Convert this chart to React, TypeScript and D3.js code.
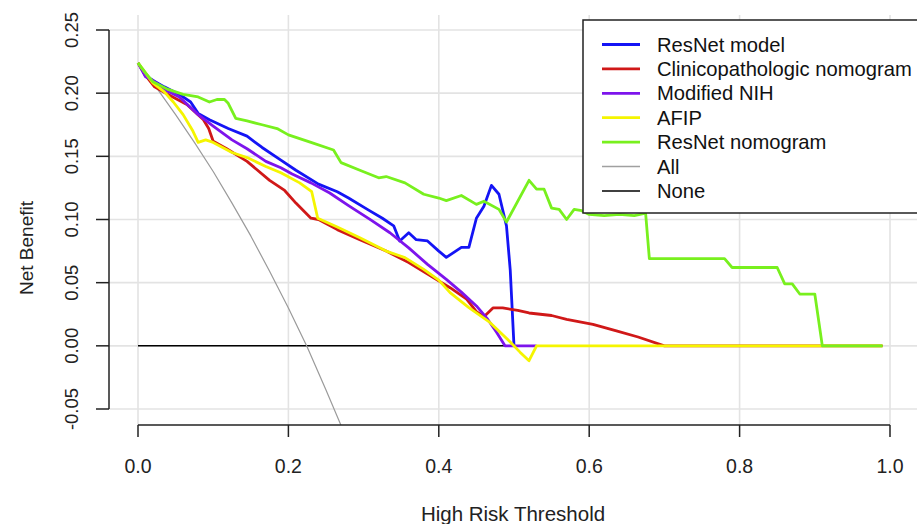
import React from "react";
import * as d3 from "d3";

const xTicks = [0, 0.2, 0.4, 0.6, 0.8, 1.0];
const yTicks = [-0.05, 0, 0.05, 0.1, 0.15, 0.2, 0.25];

const resnetT = [0, 0.01, 0.02, 0.035, 0.055, 0.07, 0.08, 0.095, 0.12, 0.145, 0.165, 0.19, 0.21, 0.24, 0.265, 0.28, 0.305, 0.325, 0.34, 0.348, 0.36, 0.37, 0.385, 0.40, 0.41, 0.43, 0.44, 0.45, 0.46, 0.47, 0.48, 0.49, 0.495, 0.50];
const resnetV = [0.224, 0.214, 0.210, 0.205, 0.199, 0.193, 0.184, 0.179, 0.172, 0.166, 0.157, 0.147, 0.139, 0.128, 0.122, 0.117, 0.108, 0.101, 0.095, 0.083, 0.0895, 0.084, 0.083, 0.075, 0.070, 0.078, 0.078, 0.101, 0.1105, 0.127, 0.120, 0.095, 0.060, 0];

const clinT = [0, 0.01, 0.022, 0.04, 0.065, 0.087, 0.094, 0.10, 0.118, 0.145, 0.175, 0.195, 0.21, 0.23, 0.24, 0.265, 0.295, 0.33, 0.36, 0.39, 0.415, 0.437, 0.45, 0.46, 0.472, 0.485, 0.505, 0.52, 0.55, 0.57, 0.605, 0.635, 0.665, 0.70, 0.99];
const clinV = [0.224, 0.214, 0.205, 0.199, 0.191, 0.179, 0.172, 0.162, 0.156, 0.146, 0.131, 0.123, 0.113, 0.101, 0.100, 0.092, 0.084, 0.075, 0.066, 0.055, 0.046, 0.037, 0.027, 0.023, 0.030, 0.030, 0.028, 0.026, 0.024, 0.021, 0.017, 0.012, 0.007, 0.0, 0];

const nihT = [0, 0.01, 0.02, 0.035, 0.055, 0.08, 0.10, 0.125, 0.145, 0.17, 0.19, 0.205, 0.23, 0.255, 0.28, 0.31, 0.335, 0.36, 0.385, 0.41, 0.43, 0.45, 0.465, 0.477, 0.488, 0.53];
const nihV = [0.224, 0.213, 0.210, 0.203, 0.197, 0.183, 0.174, 0.163, 0.156, 0.146, 0.141, 0.136, 0.129, 0.121, 0.111, 0.0995, 0.0895, 0.0775, 0.0645, 0.0526, 0.0425, 0.0316, 0.0211, 0.0105, 0, 0];

const afipT = [0, 0.01, 0.02, 0.035, 0.047, 0.06, 0.073, 0.08, 0.09, 0.10, 0.125, 0.145, 0.17, 0.19, 0.215, 0.231, 0.239, 0.265, 0.295, 0.33, 0.355, 0.38, 0.40, 0.415, 0.44, 0.468, 0.495, 0.508, 0.52, 0.53, 0.99];
const afipV = [0.224, 0.216, 0.208, 0.201, 0.193, 0.183, 0.170, 0.161, 0.163, 0.161, 0.153, 0.149, 0.142, 0.137, 0.129, 0.122, 0.101, 0.094, 0.0855, 0.075, 0.0698, 0.0605, 0.052, 0.0421, 0.0303, 0.0185, 0.003, -0.005, -0.0118, 0, 0];

const nomoT = [0, 0.01, 0.02, 0.04, 0.06, 0.08, 0.095, 0.105, 0.115, 0.12, 0.13, 0.145, 0.165, 0.185, 0.2, 0.23, 0.26, 0.27, 0.295, 0.32, 0.33, 0.355, 0.38, 0.40, 0.41, 0.43, 0.45, 0.46, 0.48, 0.49, 0.52, 0.53, 0.54, 0.55, 0.56, 0.57, 0.58, 0.59, 0.60, 0.62, 0.64, 0.66, 0.675, 0.68, 0.78, 0.79, 0.85, 0.86, 0.87, 0.88, 0.90, 0.91, 0.99];
const nomoV = [0.224, 0.216, 0.209, 0.203, 0.199, 0.197, 0.193, 0.195, 0.195, 0.192, 0.180, 0.178, 0.175, 0.172, 0.167, 0.161, 0.155, 0.145, 0.139, 0.133, 0.134, 0.129, 0.120, 0.117, 0.115, 0.119, 0.112, 0.1145, 0.108, 0.098, 0.131, 0.124, 0.124, 0.109, 0.108, 0.100, 0.108, 0.107, 0.104, 0.103, 0.104, 0.103, 0.105, 0.069, 0.069, 0.062, 0.062, 0.049, 0.049, 0.041, 0.041, 0, 0];

const allT = [0, 0.025, 0.05, 0.075, 0.1, 0.125, 0.15, 0.175, 0.2, 0.225, 0.25, 0.275, 0.3];
const allV = [0.224, 0.204, 0.183, 0.161, 0.138, 0.113, 0.087, 0.059, 0.030, -0.001, -0.035, -0.070, -0.109];

const noneT = [0, 0.99];
const noneV = [0, 0];

const legendLabels = ["ResNet model", "Clinicopathologic nomogram", "Modified NIH", "AFIP", "ResNet nomogram", "All", "None"];
const legendColors = ["#1414f5", "#d01818", "#7d14ec", "#f5f500", "#78f01e", "#a0a0a0", "#000000"];

export default function App() {
  const x = d3.scaleLinear().domain([0, 1]).range([138, 890]);
  const y = d3.scaleLinear().domain([-0.05, 0.25]).range([409, 30]);
  const line = d3.line<[number, number]>().x((d) => x(d[0])).y((d) => y(d[1]));
  const zip = (t: number[], v: number[]) => t.map((tt, i) => [tt, v[i]] as [number, number]);

  const series = [
    { t: noneT, v: noneV, c: "#000000", w: 1.5 },
    { t: allT, v: allV, c: "#9a9a9a", w: 1.2 },
    { t: resnetT, v: resnetV, c: legendColors[0], w: 2.8 },
    { t: clinT, v: clinV, c: legendColors[1], w: 2.8 },
    { t: nihT, v: nihV, c: legendColors[2], w: 2.8 },
    { t: afipT, v: afipV, c: legendColors[3], w: 2.8 },
    { t: nomoT, v: nomoV, c: legendColors[4], w: 2.8 },
  ];

  const font = "'Liberation Sans', Arial, sans-serif";
  const plotL = 108, plotR = 920, plotT = 15, plotB = 425;

  return (
    <svg width={917} height={524} style={{ position: "absolute", left: 0, top: 0, background: "#fff" }} fontFamily={font}>
      <defs>
        <clipPath id="plotclip">
          <rect x={plotL} y={plotT} width={plotR - plotL} height={plotB - plotT} />
        </clipPath>
      </defs>
      {xTicks.map((t) => (
        <line key={"gx" + t} x1={x(t)} x2={x(t)} y1={plotT} y2={plotB} stroke="#e3e3e3" strokeWidth={1.6} />
      ))}
      {yTicks.map((t) => (
        <line key={"gy" + t} x1={plotL} x2={plotR} y1={y(t)} y2={y(t)} stroke="#e3e3e3" strokeWidth={1.6} />
      ))}
      <g clipPath="url(#plotclip)">
        {series.map((s, i) => (
          <path key={i} d={line(zip(s.t, s.v)) || ""} fill="none" stroke={s.c} strokeWidth={s.w} strokeLinejoin="round" />
        ))}
      </g>
      <line x1={109} x2={109} y1={y(0.25)} y2={y(-0.05)} stroke="#222" strokeWidth={1.5} />
      {yTicks.map((t) => (
        <g key={"yt" + t}>
          <line x1={96} x2={109} y1={y(t)} y2={y(t)} stroke="#222" strokeWidth={1.5} />
          <text transform={`translate(78,${y(t)}) rotate(-90)`} textAnchor="middle" fontSize={18.5} fill="#222">
            {t.toFixed(2)}
          </text>
        </g>
      ))}
      <text transform={`translate(33,248) rotate(-90)`} textAnchor="middle" fontSize={19} fill="#222">
        Net Benefit
      </text>
      <line x1={x(0)} x2={x(1)} y1={425} y2={425} stroke="#222" strokeWidth={1.5} />
      {xTicks.map((t) => (
        <g key={"xt" + t}>
          <line x1={x(t)} x2={x(t)} y1={425} y2={437} stroke="#222" strokeWidth={1.5} />
          <text x={x(t)} y={473} textAnchor="middle" fontSize={19.5} fill="#222">
            {t.toFixed(1)}
          </text>
        </g>
      ))}
      <text x={513} y={521} textAnchor="middle" fontSize={20.5} fill="#222">
        High Risk Threshold
      </text>
      <rect x={583} y={20} width={345} height={193} fill="#fff" stroke="#222" strokeWidth={1.5} />
      {legendLabels.map((l, i) => {
        const yy = 44.5 + i * 24.4;
        return (
          <g key={l}>
            <line x1={602} x2={640} y1={yy} y2={yy} stroke={legendColors[i]} strokeWidth={i >= 5 ? 1.5 : 2.8} />
            <text x={657} y={yy} dy="0.35em" fontSize={20.2} fill="#111">
              {l}
            </text>
          </g>
        );
      })}
    </svg>
  );
}
